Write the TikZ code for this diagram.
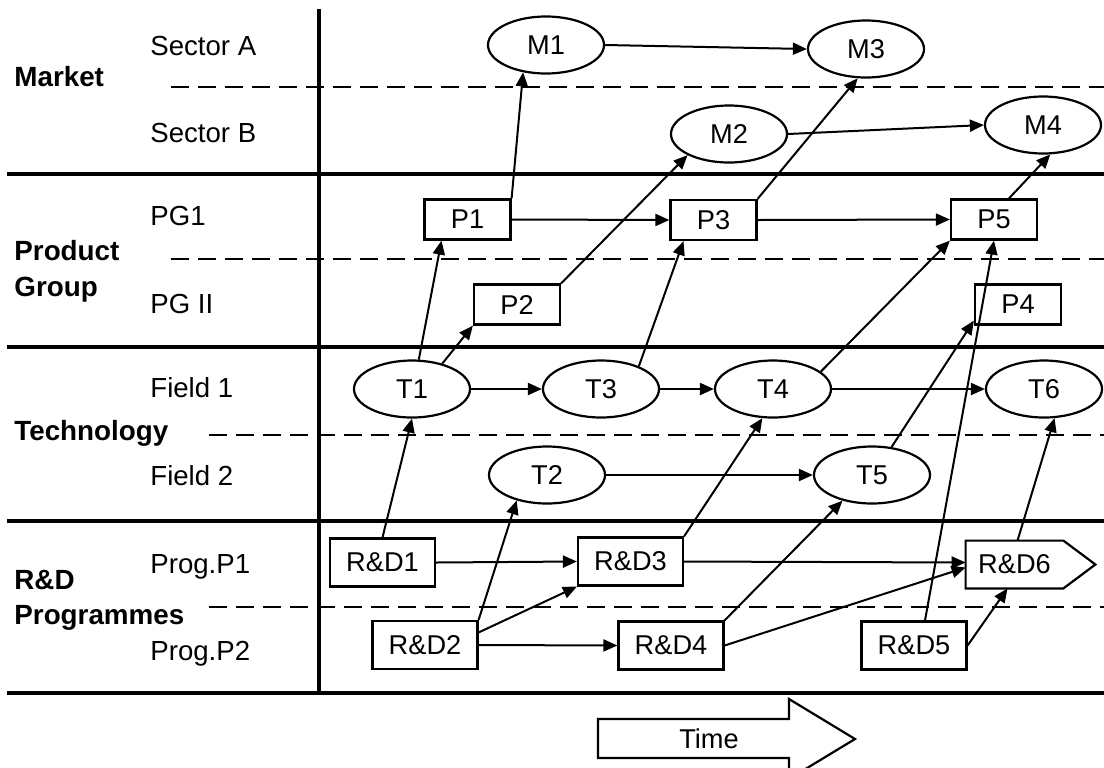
\documentclass[tikz,border=0pt]{standalone}
\usepackage{fontspec}
\setmainfont{Liberation Sans}
\usetikzlibrary{shapes.geometric,arrows.meta,calc}
\begin{document}
\begin{tikzpicture}[x=0.5pt,y=-0.5pt,
  every node/.style={font=\fontsize{13.6}{18}\selectfont},
  ell/.style={draw,ellipse,line width=1.1pt,minimum width=58pt,minimum height=28.5pt,inner sep=0pt},
  pbox/.style={draw,rectangle,line width=1.1pt,minimum width=43pt,minimum height=20pt,inner sep=0pt},
  rbox/.style={draw,rectangle,line width=1.1pt,minimum width=52.5pt,minimum height=24pt,inner sep=0pt},
  conn/.style={-{Triangle[length=7pt,width=6pt]},line width=1pt},
  sepline/.style={line width=2.2pt},
  dsep/.style={line width=1.4pt,dash pattern=on 9pt off 4.5pt},
  sublabel/.style={anchor=base west,inner sep=0pt,font=\fontsize{13.8}{18}\selectfont},
  mainlabel/.style={anchor=base west,inner sep=0pt,font=\bfseries\fontsize{13.9}{18}\selectfont}
]
\useasboundingbox (0,0) rectangle (1104,767);
\clip (0,0) rectangle (1104,767);

% separators
\draw[line width=1.6pt] (319,9) -- (319,693);
\draw[sepline] (7,174) -- (1104,174);
\draw[sepline] (7,347) -- (1104,347);
\draw[sepline] (7,521) -- (1104,521);
\draw[sepline] (7,693) -- (1104,693);
\draw[dsep] (171,87) -- (1104,87);
\draw[dsep] (171,259) -- (1104,259);
\draw[dsep] (209,435) -- (1104,435);
\draw[dsep] (209,607) -- (1104,607);

% row labels
\node[mainlabel] (lmarket) at (14,86) {Market};
\node[mainlabel] (lprod) at (14,260) {Product};
\node[mainlabel] (lgroup) at (14,296) {Group};
\node[mainlabel] (ltech) at (14,440) {Technology};
\node[mainlabel] (lrd) at (14,589) {R\&D};
\node[mainlabel] (lprog) at (14,624) {Programmes};

\node[sublabel] (lsa) at (150,55) {Sector A};
\node[sublabel] (lsb) at (150,142) {Sector B};
\node[sublabel] (lpg1) at (150,225) {PG1};
\node[sublabel] (lpg2) at (150,313) {PG II};
\node[sublabel] (lf1) at (150,397) {Field 1};
\node[sublabel] (lf2) at (150,485) {Field 2};
\node[sublabel] (lp1) at (150,573) {Prog.P1};
\node[sublabel] (lp2) at (150,660) {Prog.P2};

% nodes
\node[ell] (M1) at (546,45) {M1};
\node[ell] (M3) at (866,49) {M3};
\node[ell] (M2) at (729,134) {M2};
\node[ell] (M4) at (1043,125) {M4};
\node[pbox] (P1) at (467.5,219.5) {P1};
\node[pbox] (P3) at (713.5,220) {P3};
\node[pbox] (P5) at (994,219.5) {P5};
\node[pbox] (P2) at (517,304.5) {P2};
\node[pbox] (P4) at (1018,304.5) {P4};
\node[ell] (T1) at (412,389) {T1};
\node[ell] (T3) at (601,389) {T3};
\node[ell] (T4) at (773,389) {T4};
\node[ell] (T6) at (1044,389) {T6};
\node[ell] (T2) at (547,475) {T2};
\node[ell] (T5) at (872,475) {T5};
\node[rbox] (RD1) at (382.5,562.5) {R\&D1};
\node[rbox] (RD3) at (630.5,561.5) {R\&D3};
\node[rbox] (RD2) at (425,645) {R\&D2};
\node[rbox] (RD4) at (671,645.5) {R\&D4};
\node[rbox] (RD5) at (914,645.5) {R\&D5};
\node[inner sep=0pt,minimum width=48.5pt,minimum height=23.5pt] (RD6) at (1014.5,564.5) {R\&D6};
\draw[line width=1.1pt] (RD6.north west) -- (RD6.north east) -- ($(RD6.east)+(32,0)$) -- (RD6.south east) -- (RD6.south west) -- cycle;

% connectors
\draw[conn] (M1.east) -- (M3.west);
\draw[conn] (P1.north east) -- (M1.230);
\draw[conn] (P2.north east) -- (M2.207);
\draw[conn] (P3.north east) -- (M3.254);
\draw[conn] (M2.east) -- (M4.west);
\draw[conn] ($(P5.north)+(15,0)$) -- (M4.284);
\draw[conn] (P1.east) -- (P3.west);
\draw[conn] (P3.east) -- (P5.west);
\draw[conn] (T1.77) -- ($(P1.south)+(-26,0)$);
\draw[conn] (T1.40) -- (P2.south west);
\draw[conn] (T1.east) -- (T3.west);
\draw[conn] (T3.31) -- ($(P3.south)+(-30,0)$);
\draw[conn] (T3.east) -- (T4.west);
\draw[conn] (T4.20) -- (P5.south west);
\draw[conn] (T4.east) -- (T6.west);
\draw[conn] (T5.55) -- ($(P4.south west)+(0,-5)$);
\draw[conn] ($(RD5.north)+(11,0)$) -- (P5.south);
\draw[conn] (T2.east) -- (T5.west);
\draw[conn] (RD1.north) -- (T1.south);
\draw[conn] (RD2.north east) -- (T2.220);
\draw[conn] (RD1.east) -- (RD3.west);
\draw[conn] ($(RD2.north east)!0.25!(RD2.south east)$) -- (RD3.south west);
\draw[conn] (RD2.east) -- (RD4.west);
\draw[conn] (RD3.north east) -- (T4.250);
\draw[conn] (RD3.east) -- ($(RD6.west)+(0,-2)$);
\draw[conn] (RD4.north east) -- (T5.221);
\draw[conn] (RD4.east) -- ($(RD6.west)+(0,3)$);
\draw[conn] (RD5.east) -- ($(RD6.south)+(-7,0)$);
\draw[conn] ($(RD6.north)+(3,0)$) -- (T6.290);

% time arrow
\draw[line width=1.1pt] (598,719) -- (789,719) -- (789,699) -- (855,739) -- (789,779) -- (789,758) -- (598,758) -- cycle;
\node (time) at (709,739) {Time};
\end{tikzpicture}
\end{document}
